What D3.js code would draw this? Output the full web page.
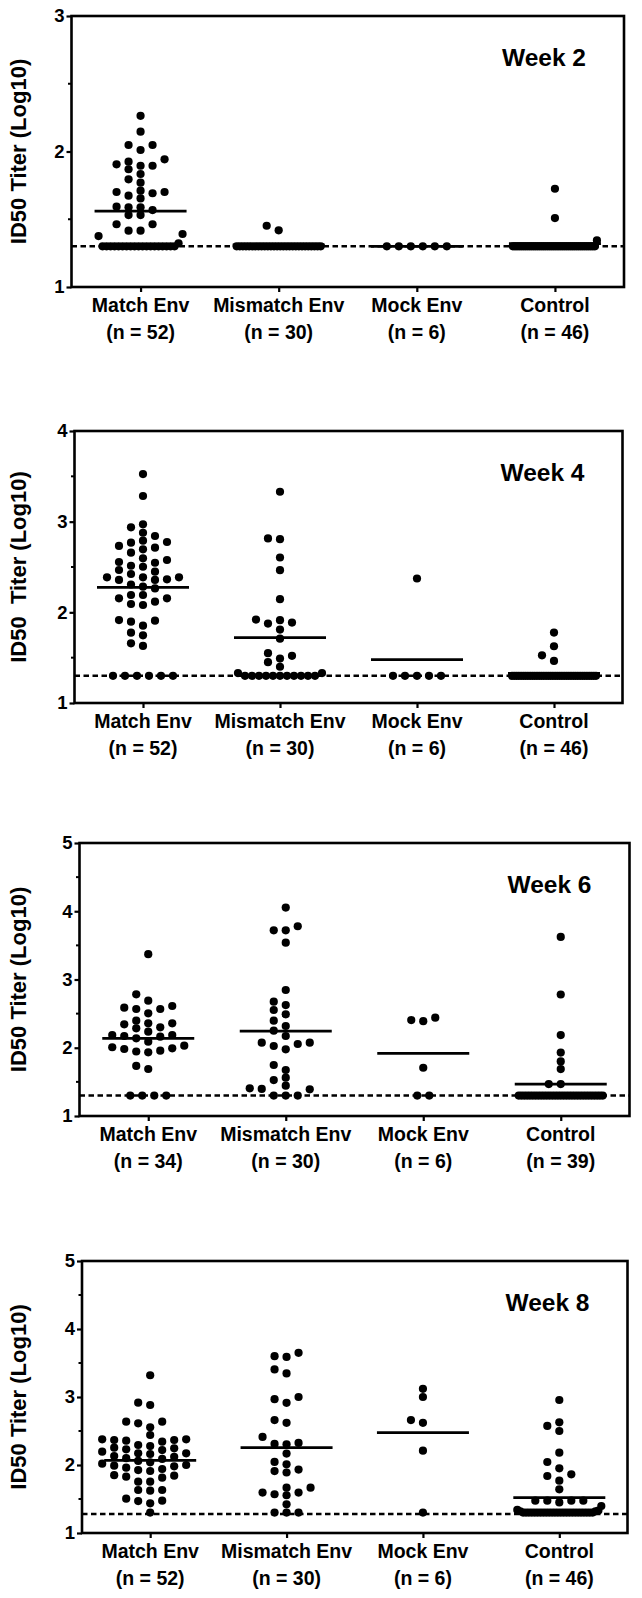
<!DOCTYPE html>
<html>
<head>
<meta charset="utf-8">
<script src="https://cdn.jsdelivr.net/npm/d3@7"></script>
<style>
  html, body { margin: 0; padding: 0; background: #fff; }
  svg { display: block; }
  text { font-family: "Liberation Sans", Arial, Helvetica, sans-serif; font-weight: bold; fill: #000; }
</style>
</head>
<body>
<svg id="chart" width="642" height="1598"></svg>
<script>
// ---------------- DATA ----------------
const categories = ["Match Env", "Mismatch Env", "Mock Env", "Control"];
const weekLabels = ["Week 2", "Week 4", "Week 6", "Week 8"];
const yTitles = ["ID50 Titer (Log10)", "ID50  Titer (Log10)", "ID50 Titer (Log10)", "ID50 Titer (Log10)"];
const yMaxes = [3, 4, 5, 5];
const detectionLimit = [1.3, 1.3, 1.3, 1.28];

const nWeek2 = ["(n = 52)", "(n = 30)", "(n = 6)", "(n = 46)"];
const nWeek4 = ["(n = 52)", "(n = 30)", "(n = 6)", "(n = 46)"];
const nWeek6 = ["(n = 34)", "(n = 30)", "(n = 6)", "(n = 39)"];
const nWeek8 = ["(n = 52)", "(n = 30)", "(n = 6)", "(n = 46)"];

const meanWeek2 = [1.56, 1.31, 1.30, 1.32];
const meanWeek4 = [2.276, 1.72, 1.478, 1.326];
const meanWeek6 = [2.138, 2.244, 1.917, 1.468];
const meanWeek8 = [2.069, 2.256, 2.477, 1.52];

// Week 2
const w2Match = [2.263, 2.146, 2.048, 2.048, 2.011, 1.942, 1.925, 1.905, 1.895, 1.895, 1.869, 1.834, 1.795, 1.77,
  1.711, 1.701, 1.701, 1.692, 1.674, 1.654, 1.588, 1.568, 1.588, 1.593, 1.531, 1.531, 1.463, 1.463, 1.416, 1.416,
  1.391, 1.376, 1.322,
  1.3, 1.3, 1.3, 1.3, 1.3, 1.3, 1.3, 1.3, 1.3, 1.3, 1.3, 1.3, 1.3, 1.3, 1.3, 1.3, 1.3, 1.3, 1.3];
const w2Mismatch = [1.452, 1.418,
  1.3, 1.3, 1.3, 1.3, 1.3, 1.3, 1.3, 1.3, 1.3, 1.3, 1.3, 1.3, 1.3, 1.3,
  1.3, 1.3, 1.3, 1.3, 1.3, 1.3, 1.3, 1.3, 1.3, 1.3, 1.3, 1.3, 1.3, 1.3];
const w2Mock = [1.3, 1.3, 1.3, 1.3, 1.3, 1.3];
const w2Control = [1.725, 1.509, 1.344,
  1.3, 1.3, 1.3, 1.3, 1.3, 1.3, 1.3, 1.3, 1.3, 1.3, 1.3, 1.3, 1.3, 1.3, 1.3, 1.3, 1.3, 1.3, 1.3, 1.3, 1.3, 1.3,
  1.3, 1.3, 1.3, 1.3, 1.3, 1.3, 1.3, 1.3, 1.3, 1.3, 1.3, 1.3, 1.3, 1.3, 1.3, 1.3, 1.3, 1.3, 1.3];

// Week 4
const w4Match = [3.525, 3.283, 2.971, 2.938, 2.878, 2.842, 2.79, 2.776, 2.768, 2.732, 2.713, 2.695, 2.658, 2.596,
  2.577, 2.555, 2.547, 2.514, 2.503, 2.467, 2.448, 2.423, 2.386, 2.386, 2.386, 2.364, 2.357, 2.357, 2.307, 2.283,
  2.264, 2.191, 2.191, 2.154, 2.154, 2.118, 2.092, 2.081, 1.915, 1.908, 1.897, 1.853, 1.776, 1.746, 1.658, 1.629,
  1.3, 1.3, 1.3, 1.3, 1.3, 1.3];
const w4Mismatch = [3.33, 2.815, 2.807, 2.605, 2.465, 2.145, 1.92, 1.913, 1.887, 1.876, 1.81, 1.71, 1.55, 1.52,
  1.49, 1.45, 1.40, 1.33, 1.33,
  1.3, 1.3, 1.3, 1.3, 1.3, 1.3, 1.3, 1.3, 1.3, 1.3, 1.3];
const w4Mock = [2.373, 1.3, 1.3, 1.3, 1.3, 1.3];
const w4Control = [1.777, 1.626, 1.526, 1.464,
  1.3, 1.3, 1.3, 1.3, 1.3, 1.3, 1.3, 1.3, 1.3, 1.3, 1.3, 1.3, 1.3, 1.3, 1.3, 1.3, 1.3, 1.3, 1.3, 1.3, 1.3,
  1.3, 1.3, 1.3, 1.3, 1.3, 1.3, 1.3, 1.3, 1.3, 1.3, 1.3, 1.3, 1.3, 1.3, 1.3, 1.3, 1.3];

// Week 6
const w6Match = [3.371, 2.783, 2.69, 2.612, 2.587, 2.568, 2.568, 2.505, 2.397, 2.358, 2.358, 2.343, 2.30, 2.285,
  2.235, 2.187, 2.187, 2.172, 2.162, 2.138, 2.089, 2.03, 2.007, 1.992, 1.982, 1.957, 1.945, 1.933, 1.733, 1.689,
  1.3, 1.3, 1.3, 1.3];
const w6Mismatch = [4.054, 3.78, 3.72, 3.72, 3.54, 2.846, 2.675, 2.626, 2.553, 2.49, 2.397, 2.319, 2.25, 2.172,
  2.074, 2.074, 2.055, 2.026, 1.977, 1.747, 1.674, 1.562, 1.527, 1.444, 1.406, 1.396, 1.391,
  1.3, 1.3, 1.3];
const w6Mock = [2.44, 2.405, 2.39, 1.707, 1.3, 1.3];
const w6Control = [3.624, 2.78, 2.185, 1.93, 1.80, 1.688, 1.468, 1.468,
  1.3, 1.3, 1.3, 1.3, 1.3, 1.3, 1.3, 1.3, 1.3, 1.3, 1.3, 1.3, 1.3, 1.3, 1.3, 1.3,
  1.3, 1.3, 1.3, 1.3, 1.3, 1.3, 1.3, 1.3, 1.3, 1.3, 1.3, 1.3, 1.3, 1.3, 1.3];

// Week 8
const w8Match = [3.32, 2.916, 2.882, 2.637, 2.637, 2.613, 2.554, 2.441, 2.378, 2.378, 2.368, 2.368, 2.358, 2.343,
  2.294, 2.279, 2.255, 2.245, 2.231, 2.22, 2.196, 2.172, 2.172, 2.162, 2.132, 2.12, 2.10, 2.09, 2.06, 2.04,
  2.02, 2.0, 1.99, 1.98, 1.96, 1.941, 1.926, 1.912, 1.85, 1.843, 1.828, 1.813, 1.755, 1.755, 1.632, 1.632,
  1.622, 1.505, 1.475, 1.47, 1.436, 1.3];
const w8Mismatch = [3.65, 3.6, 3.59, 3.405, 3.346, 3.0, 2.968, 2.914, 2.66, 2.62, 2.413, 2.325, 2.31, 2.305,
  2.168, 2.045, 2.01, 1.933, 1.91, 1.89, 1.667, 1.667, 1.594, 1.594, 1.57, 1.555, 1.422,
  1.3, 1.3, 1.3];
const w8Mock = [3.12, 3.0, 2.66, 2.62, 2.21, 1.3];
const w8Control = [2.956, 2.628, 2.574, 2.5, 2.181, 2.044, 1.951, 1.863, 1.838, 1.769, 1.643, 1.475, 1.475,
  1.475, 1.475, 1.45, 1.397,
  1.34, 1.33, 1.32, 1.32,
  1.3, 1.3, 1.3, 1.3, 1.3, 1.3, 1.3, 1.3, 1.3, 1.3, 1.3, 1.3, 1.3, 1.3, 1.3, 1.3, 1.3, 1.3, 1.3, 1.3,
  1.3, 1.3, 1.3, 1.3, 1.3];

// ---------------- ASSEMBLY ----------------
const panelValues = [
  [w2Match, w2Mismatch, w2Mock, w2Control],
  [w4Match, w4Mismatch, w4Mock, w4Control],
  [w6Match, w6Mismatch, w6Mock, w6Control],
  [w8Match, w8Mismatch, w8Mock, w8Control]
];
const panelN = [nWeek2, nWeek4, nWeek6, nWeek8];
const panelMeans = [meanWeek2, meanWeek4, meanWeek6, meanWeek8];

// layout (pixel frames of each panel)
const frames = [
  {left: 71.5, right: 624,   top: 16,   bottom: 287},
  {left: 74.5, right: 622.5, top: 431,  bottom: 703},
  {left: 79.5, right: 629.5, top: 843,  bottom: 1116},
  {left: 82,   right: 627.5, top: 1261, bottom: 1533}
];

const svg = d3.select("#chart");
const R = 4.1, SLOT = 12, BASE_MAX_W = 84, MEAN_HALF = 46;

function swarm(values, y, cx) {
  const pts = values.map(v => ({v, y: y(v)}));
  const base = pts.filter(p => p.v < 1.40).sort((a, b) => a.v - b.v);
  const rest = pts.filter(p => p.v >= 1.40).sort((a, b) => a.v - b.v);
  // baseline row: values at the limit in the middle, slightly raised ones alternating to the ends
  const flat = base.filter(p => p.v <= 1.305);
  const raised = base.filter(p => p.v > 1.305);
  const row = flat.slice();
  raised.forEach((p, i) => { if (i % 2 === 0) row.push(p); else row.unshift(p); });
  const k = row.length;
  const sp = k > 1 ? Math.min(SLOT, BASE_MAX_W / (k - 1)) : 0;
  row.forEach((p, i) => { p.x = cx + (i - (k - 1) / 2) * sp; });
  const placed = row.slice();
  rest.forEach(p => {
    p.x = cx;
    for (let j = 0; j < 40; j++) {
      const s = j === 0 ? 0 : (j % 2 ? -Math.ceil(j / 2) : Math.ceil(j / 2));
      const x = cx + s * SLOT;
      if (!placed.some(q => Math.abs(q.x - x) < 10 && Math.abs(q.y - p.y) < 7.4)) { p.x = x; break; }
    }
    placed.push(p);
  });
  return placed;
}

frames.forEach((f, pi) => {
  const g = svg.append("g");
  const x = d3.scalePoint().domain(categories).range([f.left, f.right]).padding(0.5).align(0.5);
  const y = d3.scaleLinear().domain([1, yMaxes[pi]]).range([f.bottom, f.top]);

  // y axis major + minor ticks
  const majors = d3.range(1, yMaxes[pi] + 0.001, 1);
  const minors = d3.range(1.5, yMaxes[pi], 1);
  const yAxis = d3.axisLeft(y).tickValues(majors).tickSize(5).tickSizeOuter(0).tickFormat(d3.format("d"));
  const ya = g.append("g").attr("transform", `translate(${f.left},0)`).call(yAxis);
  ya.select(".domain").remove();
  ya.selectAll(".tick line").attr("stroke", "#000").attr("stroke-width", 2.2);
  ya.selectAll(".tick text").attr("x", -7).attr("font-size", 18.5).attr("font-family", null)
    .attr("fill", "#000").style("font-weight", "bold");
  g.append("g").selectAll("line").data(minors).join("line")
    .attr("x1", f.left - 3.5).attr("x2", f.left)
    .attr("y1", d => y(d)).attr("y2", d => y(d))
    .attr("stroke", "#000").attr("stroke-width", 2);

  // x axis ticks + labels
  const xAxis = d3.axisBottom(x).tickSize(5).tickSizeOuter(0).tickFormat("");
  const xa = g.append("g").attr("transform", `translate(0,${f.bottom})`).call(xAxis);
  xa.select(".domain").remove();
  xa.selectAll(".tick line").attr("stroke", "#000").attr("stroke-width", 2.2);

  g.append("g").selectAll("text").data(categories).join("text")
    .attr("x", d => x(d)).attr("y", f.bottom + 25)
    .attr("text-anchor", "middle").attr("font-size", 19.5).text(d => d);
  g.append("g").selectAll("text").data(panelN[pi]).join("text")
    .attr("x", (d, i) => x(categories[i])).attr("y", f.bottom + 52)
    .attr("text-anchor", "middle").attr("font-size", 19.5).text(d => d);

  // detection limit dashed line
  g.append("line")
    .attr("x1", f.left).attr("x2", f.right)
    .attr("y1", y(detectionLimit[pi])).attr("y2", y(detectionLimit[pi]))
    .attr("stroke", "#000").attr("stroke-width", 2.5).attr("stroke-dasharray", "5.5,3.5");

  // dots
  panelValues[pi].forEach((vals, ci) => {
    const pts = swarm(vals, y, x(categories[ci]));
    g.append("g").selectAll("circle").data(pts).join("circle")
      .attr("cx", d => d.x).attr("cy", d => d.y).attr("r", R).attr("fill", "#000");
  });

  // mean lines
  g.append("g").selectAll("line").data(panelMeans[pi]).join("line")
    .attr("x1", (d, i) => x(categories[i]) - MEAN_HALF)
    .attr("x2", (d, i) => x(categories[i]) + MEAN_HALF)
    .attr("y1", d => y(d)).attr("y2", d => y(d))
    .attr("stroke", "#000").attr("stroke-width", 2.8);

  // frame
  g.append("rect")
    .attr("x", f.left).attr("y", f.top)
    .attr("width", f.right - f.left).attr("height", f.bottom - f.top)
    .attr("fill", "none").attr("stroke", "#000").attr("stroke-width", 2.6);

  // week label
  g.append("text").attr("x", f.right - 38).attr("y", f.top + 50)
    .attr("text-anchor", "end").attr("font-size", 24.5).text(weekLabels[pi]);

  // y title
  g.append("text")
    .attr("transform", `translate(18,${(f.top + f.bottom) / 2}) rotate(-90)`)
    .attr("text-anchor", "middle").attr("dy", "0.35em").attr("font-size", 22)
    .style("white-space", "pre").text(yTitles[pi]);
});
</script>
</body>
</html>
